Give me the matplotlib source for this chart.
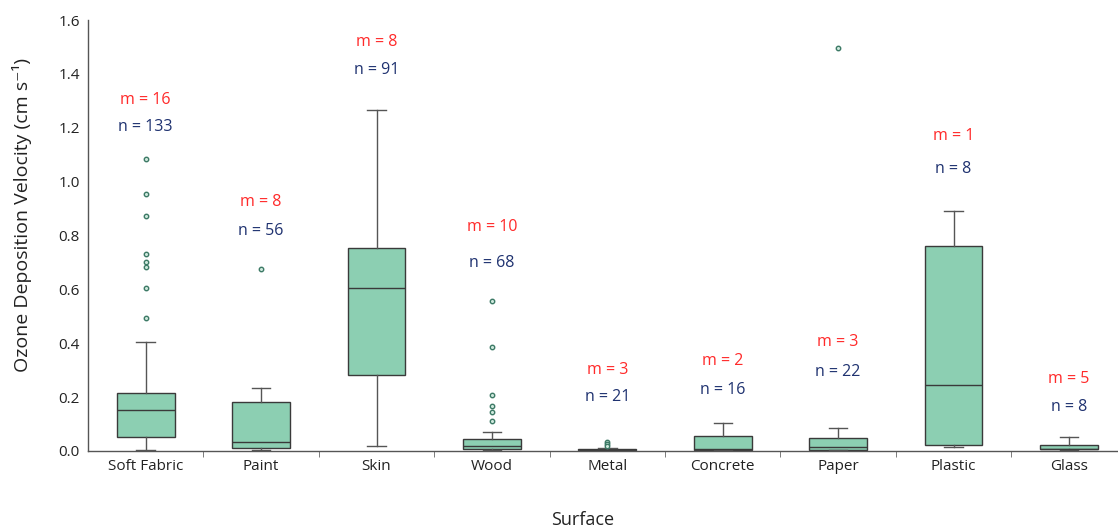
import matplotlib
matplotlib.use("Agg")
import matplotlib.pyplot as plt
from matplotlib.ticker import FixedLocator

plt.rcParams['font.family'] = ['Open Sans', 'DejaVu Sans']

surfaces = ["Soft Fabric", "Paint", "Skin", "Wood", "Metal", "Concrete", "Paper", "Plastic", "Glass"]

# Five-number summaries per surface (cm s^-1)
whisker_low = [0.005, 0.005, 0.019, 0.003, 0.001, 0.004, 0.004, 0.014, 0.005]
q1          = [0.053, 0.010, 0.282, 0.007, 0.002, 0.005, 0.005, 0.024, 0.006]
medians     = [0.152, 0.033, 0.605, 0.019, 0.004, 0.007, 0.015, 0.244, 0.007]
q3          = [0.216, 0.182, 0.754, 0.043, 0.008, 0.055, 0.047, 0.761, 0.022]
whisker_high= [0.403, 0.234, 1.266, 0.072, 0.010, 0.103, 0.085, 0.892, 0.052]

outliers = [
    [1.084, 0.954, 0.873, 0.732, 0.703, 0.684, 0.604, 0.494],
    [0.674],
    [],
    [0.557, 0.385, 0.207, 0.167, 0.145, 0.111],
    [0.035, 0.026, 0.017],
    [],
    [1.496],
    [],
    [],
]

# number of studies (m) and measurements (n)
m_counts = [16, 8, 8, 10, 3, 2, 3, 1, 5]
n_counts = [133, 56, 91, 68, 21, 16, 22, 8, 8]

# vertical placement of the count annotations
m_label_y = [1.303, 0.924, 1.518, 0.831, 0.300, 0.334, 0.405, 1.169, 0.267]
n_label_y = [1.203, 0.817, 1.414, 0.698, 0.200, 0.226, 0.293, 1.047, 0.163]

stats = []
for i, name in enumerate(surfaces):
    stats.append(dict(label=name, whislo=whisker_low[i], q1=q1[i], med=medians[i],
                      q3=q3[i], whishi=whisker_high[i], fliers=outliers[i]))

fig = plt.figure(figsize=(11.18, 5.28), dpi=100)
ax = fig.add_axes([88 / 1118, 1 - 451 / 528, 1 - 88 / 1118, (451 - 20) / 528])

positions = list(range(1, len(surfaces) + 1))
box_color = "#8ccfb2"
edge = "#3a3a3a"
ax.bxp(stats, positions=positions, widths=0.5, capwidths=0.16, patch_artist=True,
       boxprops=dict(facecolor=box_color, edgecolor=edge, linewidth=1.0),
       medianprops=dict(color=edge, linewidth=1.0),
       whiskerprops=dict(color="#555555", linewidth=1.0),
       capprops=dict(color="#555555", linewidth=1.0),
       flierprops=dict(marker='o', markersize=3.2, markeredgewidth=1.0,
                       markeredgecolor="#3d7a66", markerfacecolor="#cfe9dd"))

for i, x in enumerate(positions):
    ax.text(x, m_label_y[i], f"m = {m_counts[i]}", color="#ff2a2a", fontsize=11.5,
            ha="center", va="center")
    ax.text(x, n_label_y[i], f"n = {n_counts[i]}", color="#1f3270", fontsize=11.5,
            ha="center", va="center")

ax.set_xlim(0.5, 9 + (1118 - 1069) / 115.4)
ax.set_ylim(0, 1.6)
ax.set_yticks([0.0, 0.2, 0.4, 0.6, 0.8, 1.0, 1.2, 1.4, 1.6])
ax.set_yticklabels([f"{v:.1f}" for v in ax.get_yticks()])
ax.set_xticks(positions)
ax.set_xticklabels(surfaces)
ax.xaxis.set_minor_locator(FixedLocator([p + 0.5 for p in positions[:-1]]))
ax.tick_params(axis='x', which='major', length=0, pad=6, labelsize=11, labelcolor="#222222")
ax.tick_params(axis='x', which='minor', length=4, color="#666666", direction='out')
ax.tick_params(axis='y', length=0, pad=6, labelsize=11, labelcolor="#222222")

for side in ("top", "right"):
    ax.spines[side].set_visible(False)
for side in ("left", "bottom"):
    ax.spines[side].set_color("#555555")
    ax.spines[side].set_linewidth(1.0)

ax.set_ylabel("Ozone Deposition Velocity (cm s⁻¹)", fontsize=14, color="#222222")
ax.yaxis.set_label_coords(-0.054, 0.547)
fig.text(583 / 1118, 1 - 520 / 528, "Surface", fontsize=13, color="#222222",
         ha="center", va="center")

fig.savefig("out.png", dpi=100)
